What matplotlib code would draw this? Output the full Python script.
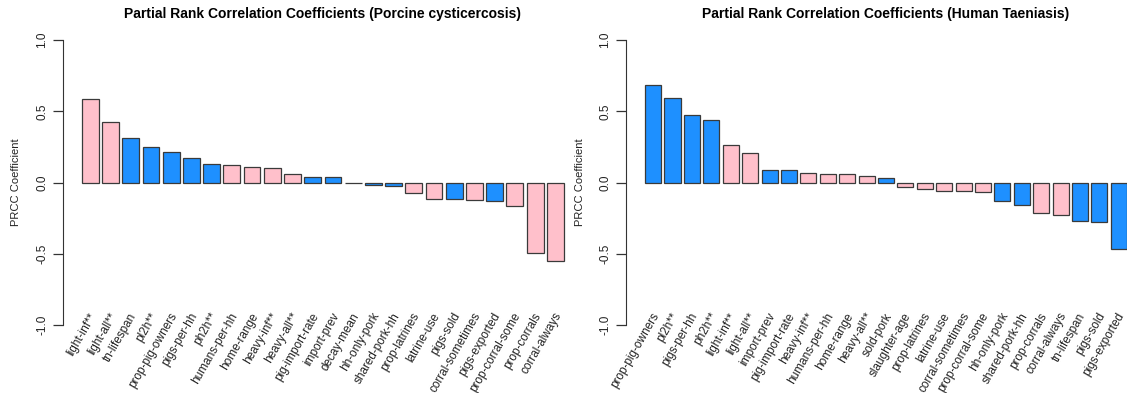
import matplotlib
matplotlib.use("Agg")
import matplotlib.pyplot as plt

plt.rcParams["font.family"] = ["Liberation Sans", "DejaVu Sans"]

BLUE = "#1E90FF"
PINK = "#FFC0CB"

# porcine cysticercosis PRCC
pc_labels = ["light-inf**", "light-all**", "tn-lifespan", "pl2h**", "prop-pig-owners",
             "pigs-per-hh", "ph2h**", "humans-per-hh", "home-range", "heavy-inf**",
             "heavy-all**", "pig-import-rate", "import-prev", "decay-mean", "hh-only-pork",
             "shared-pork-hh", "prop-latrines", "latrine-use", "pigs-sold",
             "corral-sometimes", "pigs-exported", "prop-corral-some", "prop-corrals",
             "corral-always"]
pc_values = [0.583, 0.424, 0.312, 0.247, 0.217, 0.175, 0.128, 0.126, 0.112, 0.105,
             0.063, 0.039, 0.039, -0.005, -0.014, -0.023, -0.075, -0.112, -0.117,
             -0.121, -0.131, -0.166, -0.497, -0.553]
pc_colors = ["p", "p", "b", "b", "b", "b", "b", "p", "p", "p",
             "p", "b", "b", "b", "b", "b", "p", "p", "b", "p",
             "b", "p", "p", "p"]

# human taeniasis PRCC
ht_labels = ["prop-pig-owners", "pl2h**", "pigs-per-hh", "ph2h**", "light-inf**",
             "light-all**", "import-prev", "pig-import-rate", "heavy-inf**",
             "humans-per-hh", "home-range", "heavy-all**", "sold-pork", "slaughter-age",
             "prop-latrines", "latrine-use", "corral-sometimes", "prop-corral-some",
             "hh-only-pork", "shared-pork-hh", "prop-corrals", "corral-always",
             "tn-lifespan", "pigs-sold", "pigs-exported"]
ht_values = [0.685, 0.592, 0.473, 0.44, 0.264, 0.208, 0.086, 0.086, 0.07, 0.061,
             0.061, 0.047, 0.033, -0.03, -0.042, -0.058, -0.058, -0.068, -0.128,
             -0.158, -0.214, -0.228, -0.268, -0.277, -0.464]
ht_colors = ["b", "b", "b", "b", "p", "p", "b", "b", "p", "p",
             "p", "p", "b", "p", "p", "p", "p", "p", "b", "b",
             "p", "p", "b", "b", "b"]


def prcc_panel(ax, labels, values, colors, title):
    n = len(values)
    # barplot-style layout: width 1, gap 0.2
    xs = [0.7 + 1.2 * i for i in range(n)]
    fills = [BLUE if c == "b" else PINK for c in colors]
    ax.bar(xs, values, width=1.0, color=fills, edgecolor="#3a3a3a", linewidth=0.9)

    lo, hi = 0.2, 1.2 * n
    pad = 0.04 * (hi - lo)
    ax.set_xlim(lo - pad, hi + pad)
    ax.set_ylim(-1.08, 1.08)

    for s in ["top", "right", "bottom"]:
        ax.spines[s].set_visible(False)
    ax.spines["left"].set_bounds(-1, 1)
    ax.spines["left"].set_color("#333333")
    ax.set_xticks([])
    ticks = [-1.0, -0.5, 0.0, 0.5, 1.0]
    ax.set_yticks(ticks)
    ax.set_yticklabels([f"{t:.1f}" for t in ticks], rotation=90, va="center",
                       fontsize=8.5, color="#222222")
    ax.tick_params(axis="y", length=7, width=0.9, color="#333333", pad=3.5)
    ax.set_ylabel("PRCC Coefficient", fontsize=8, labelpad=10.5, color="#222222")
    ax.set_title(title, fontsize=10, fontweight="bold", pad=8)

    for x, lab in zip(xs, labels):
        ax.text(x + 0.2, -0.92, lab, rotation=60, rotation_mode="anchor",
                ha="right", va="center", fontsize=8.5, color="#222222",
                clip_on=False)


fig = plt.figure(figsize=(11.27, 3.93), dpi=100)
ax1 = fig.add_axes([0.0556, 0.144, 0.4617, 0.783])
ax2 = fig.add_axes([0.5553, 0.144, 0.4617, 0.783])

prcc_panel(ax1, pc_labels, pc_values, pc_colors,
           "Partial Rank Correlation Coefficients (Porcine cysticercosis)")
prcc_panel(ax2, ht_labels, ht_values, ht_colors,
           "Partial Rank Correlation Coefficients (Human Taeniasis)")

fig.savefig("out.png", dpi=100)
